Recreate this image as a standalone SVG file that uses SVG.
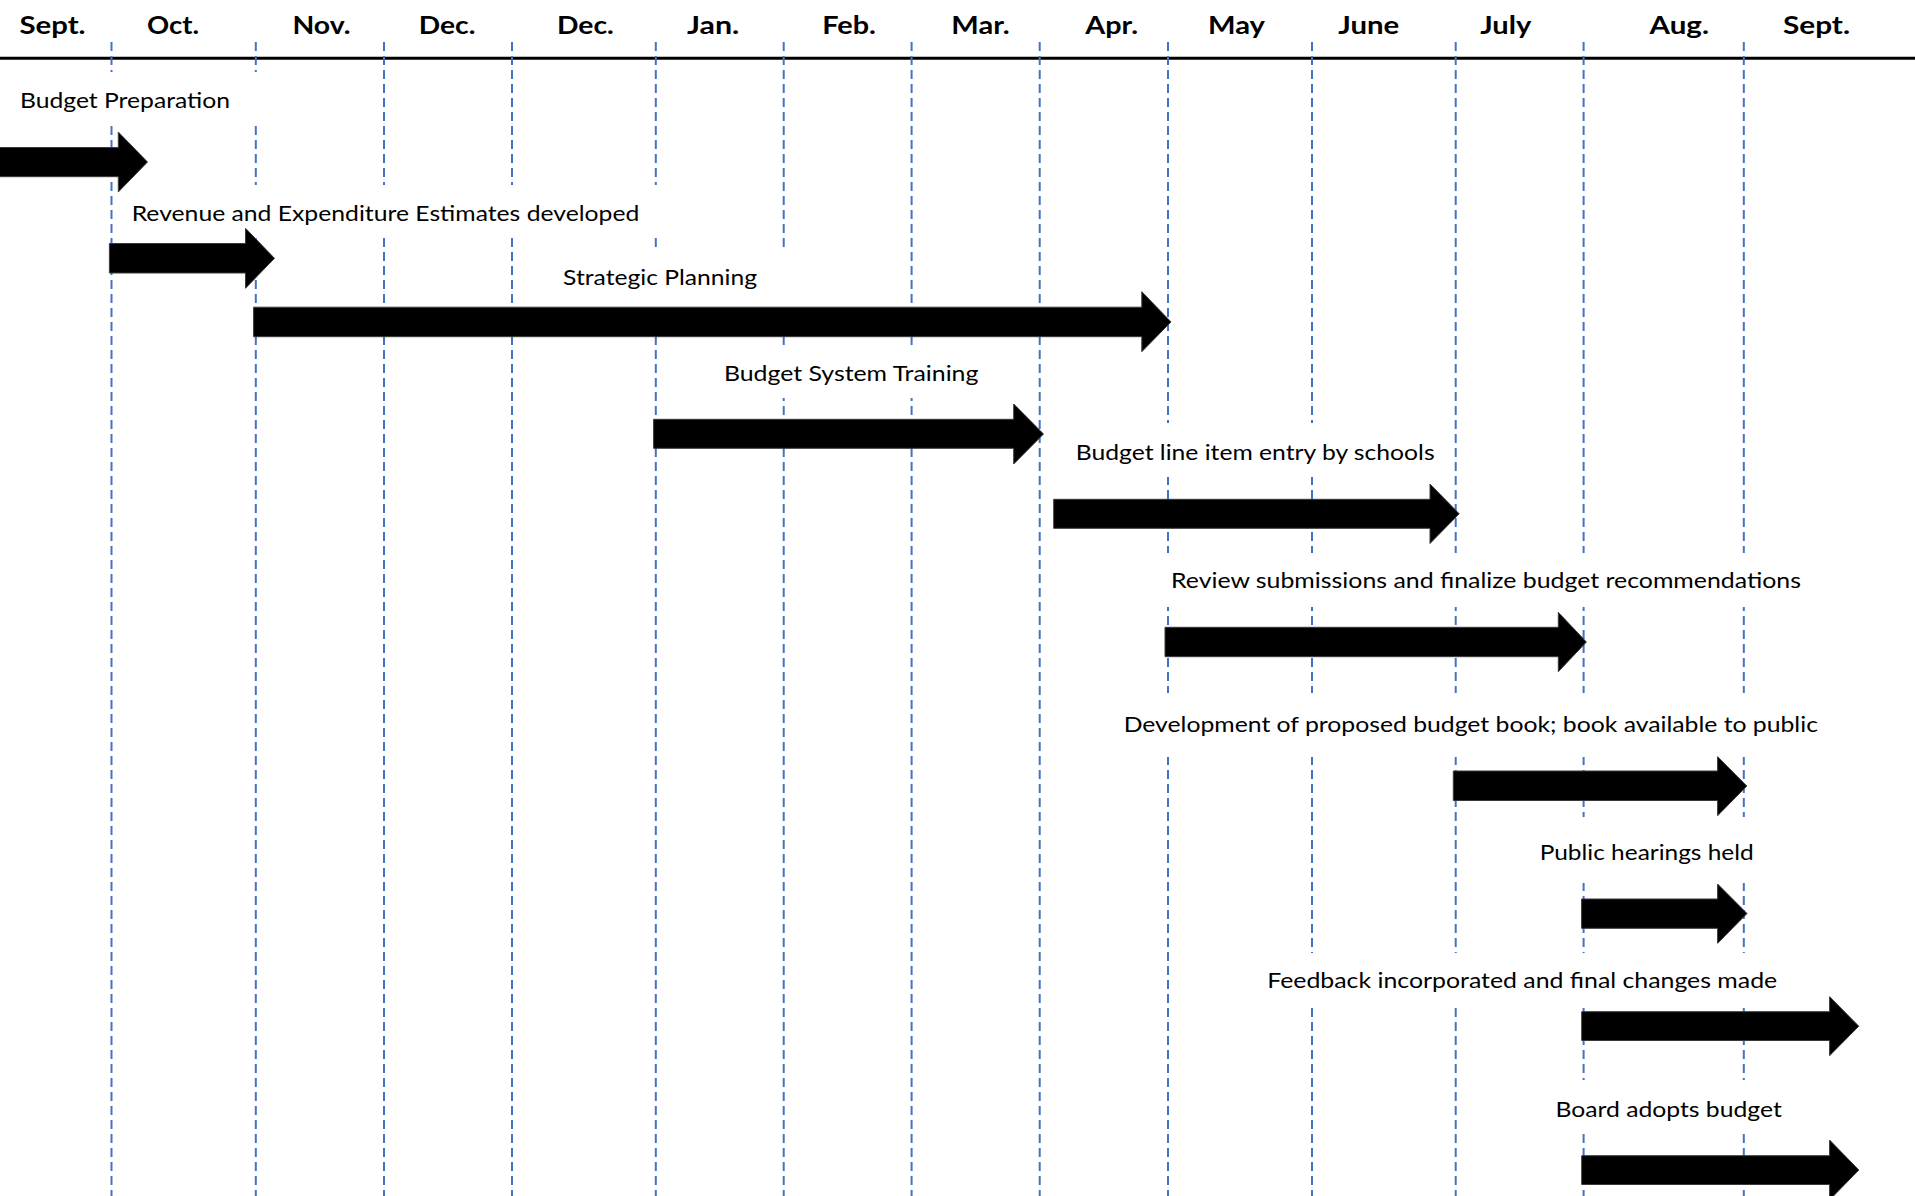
<svg xmlns="http://www.w3.org/2000/svg" width="1915" height="1196" viewBox="0 0 1915 1196">
<style>
.mon{font-family:Lato,"Liberation Sans",sans-serif;font-weight:bold;font-size:25.5px;fill:#000}
.lbl{font-family:Lato,"Liberation Sans",sans-serif;font-size:21px;fill:#000}
.grid{stroke:#4472C4;stroke-width:2;stroke-dasharray:9 5;fill:none}
.box{fill:#fff;stroke:none}
.arrow{fill:#000;stroke:#3a3a3a;stroke-width:1}
</style>
<rect width="1915" height="1196" fill="#fff"/>
<g id="axis">
<line x1="0" y1="58.3" x2="1915" y2="58.3" stroke="#000" stroke-width="3"/>
</g>
<g id="grid">
<line class="grid" x1="111.5" y1="42" x2="111.5" y2="1196"/>
<line class="grid" x1="255.8" y1="42" x2="255.8" y2="1196"/>
<line class="grid" x1="384" y1="42" x2="384" y2="1196"/>
<line class="grid" x1="512" y1="42" x2="512" y2="1196"/>
<line class="grid" x1="655.8" y1="42" x2="655.8" y2="1196"/>
<line class="grid" x1="783.7" y1="42" x2="783.7" y2="1196"/>
<line class="grid" x1="911.6" y1="42" x2="911.6" y2="1196"/>
<line class="grid" x1="1039.7" y1="42" x2="1039.7" y2="1196"/>
<line class="grid" x1="1168" y1="42" x2="1168" y2="1196"/>
<line class="grid" x1="1312" y1="42" x2="1312" y2="1196"/>
<line class="grid" x1="1455.7" y1="42" x2="1455.7" y2="1196"/>
<line class="grid" x1="1583.6" y1="42" x2="1583.6" y2="1196"/>
<line class="grid" x1="1743.8" y1="42" x2="1743.8" y2="1196"/>
</g>
<g id="months">
<text class="mon" x="19.5" y="33.5" textLength="66" lengthAdjust="spacingAndGlyphs">Sept.</text>
<text class="mon" x="147" y="33.5" textLength="52" lengthAdjust="spacingAndGlyphs">Oct.</text>
<text class="mon" x="292.4" y="33.5" textLength="58" lengthAdjust="spacingAndGlyphs">Nov.</text>
<text class="mon" x="418.8" y="33.5" textLength="56.6" lengthAdjust="spacingAndGlyphs">Dec.</text>
<text class="mon" x="557" y="33.5" textLength="56.8" lengthAdjust="spacingAndGlyphs">Dec.</text>
<text class="mon" x="687" y="33.5" textLength="52.3" lengthAdjust="spacingAndGlyphs">Jan.</text>
<text class="mon" x="822.3" y="33.5" textLength="53.6" lengthAdjust="spacingAndGlyphs">Feb.</text>
<text class="mon" x="951.3" y="33.5" textLength="58.5" lengthAdjust="spacingAndGlyphs">Mar.</text>
<text class="mon" x="1085.3" y="33.5" textLength="52.7" lengthAdjust="spacingAndGlyphs">Apr.</text>
<text class="mon" x="1208" y="33.5" textLength="57" lengthAdjust="spacingAndGlyphs">May</text>
<text class="mon" x="1338.2" y="33.5" textLength="61" lengthAdjust="spacingAndGlyphs">June</text>
<text class="mon" x="1480.3" y="33.5" textLength="51" lengthAdjust="spacingAndGlyphs">July</text>
<text class="mon" x="1649.5" y="33.5" textLength="59.4" lengthAdjust="spacingAndGlyphs">Aug.</text>
<text class="mon" x="1783" y="33.5" textLength="67" lengthAdjust="spacingAndGlyphs">Sept.</text>
</g>
<g id="task-budget-preparation">
<rect class="box" x="8" y="72" width="292" height="53"/>
<text class="lbl" x="20" y="108.3" textLength="210" lengthAdjust="spacingAndGlyphs">Budget Preparation</text>
</g>
<g id="task-revenue">
<rect class="box" x="122" y="185" width="548" height="52"/>
<text class="lbl" x="131.7" y="220.5" textLength="507.6" lengthAdjust="spacingAndGlyphs">Revenue and Expenditure Estimates developed</text>
</g>
<g id="task-strategic">
<rect class="box" x="553" y="247" width="247" height="58"/>
<text class="lbl" x="563.1" y="285" textLength="194" lengthAdjust="spacingAndGlyphs">Strategic Planning</text>
</g>
<g id="task-training">
<rect class="box" x="713" y="347" width="277" height="51"/>
<text class="lbl" x="723.9" y="380.5" textLength="254.5" lengthAdjust="spacingAndGlyphs">Budget System Training</text>
</g>
<g id="task-line-item">
<rect class="box" x="1066" y="423" width="380" height="54"/>
<text class="lbl" x="1075.8" y="460" textLength="358.8" lengthAdjust="spacingAndGlyphs">Budget line item entry by schools</text>
</g>
<g id="task-review">
<rect class="box" x="1161" y="553" width="651" height="54"/>
<text class="lbl" x="1171" y="588.3" textLength="630" lengthAdjust="spacingAndGlyphs">Review submissions and finalize budget recommendations</text>
</g>
<g id="task-development">
<rect class="box" x="1114" y="693" width="714" height="64"/>
<text class="lbl" x="1123.7" y="731.7" textLength="694.3" lengthAdjust="spacingAndGlyphs">Development of proposed budget book; book available to public</text>
</g>
<g id="task-hearings">
<rect class="box" x="1530" y="817" width="234" height="66"/>
<text class="lbl" x="1539.7" y="860" textLength="214" lengthAdjust="spacingAndGlyphs">Public hearings held</text>
</g>
<g id="task-feedback">
<rect class="box" x="1257" y="953" width="530" height="54"/>
<text class="lbl" x="1267.2" y="988.3" textLength="510" lengthAdjust="spacingAndGlyphs">Feedback incorporated and final changes made</text>
</g>
<g id="task-board">
<rect class="box" x="1545" y="1080" width="247" height="53"/>
<text class="lbl" x="1555.4" y="1116.7" textLength="226.4" lengthAdjust="spacingAndGlyphs">Board adopts budget</text>
</g>
<g id="connectors">
<polygon class="arrow" points="-5,147.5 118.3,147.5 118.3,132 147.5,162 118.3,192 118.3,176.7 -5,176.7"/>
<polygon class="arrow" points="109.4,243.5 245.5,243.5 245.5,228.3 274.5,258.3 245.5,288.3 245.5,273 109.4,273"/>
<polygon class="arrow" points="253.6,307.2 1141.8,307.2 1141.8,291.7 1171,321.9 1141.8,351.7 1141.8,336.7 253.6,336.7"/>
<polygon class="arrow" points="653.6,419.3 1013.7,419.3 1013.7,404 1043.5,434 1013.7,464 1013.7,448.3 653.6,448.3"/>
<polygon class="arrow" points="1053.7,499.3 1430,499.3 1430,484 1459.2,513.8 1430,543.5 1430,528.3 1053.7,528.3"/>
<polygon class="arrow" points="1165,627.3 1558.3,627.3 1558.3,612.3 1586.4,642 1558.3,671.7 1558.3,656.7 1165,656.7"/>
<polygon class="arrow" points="1453.3,771 1717.6,771 1717.6,756.7 1746.8,786 1717.6,815.7 1717.6,800.5 1453.3,800.5"/>
<polygon class="arrow" points="1581.6,899 1717.6,899 1717.6,884 1747,913.5 1717.6,943.3 1717.6,928.3 1581.6,928.3"/>
<polygon class="arrow" points="1581.7,1011.7 1829.6,1011.7 1829.6,996.7 1858.8,1026.2 1829.6,1055.7 1829.6,1040.5 1581.7,1040.5"/>
<polygon class="arrow" points="1581.7,1155.7 1829.6,1155.7 1829.6,1140 1858.8,1170 1829.6,1200 1829.6,1184.5 1581.7,1184.5"/>
</g>
</svg>
